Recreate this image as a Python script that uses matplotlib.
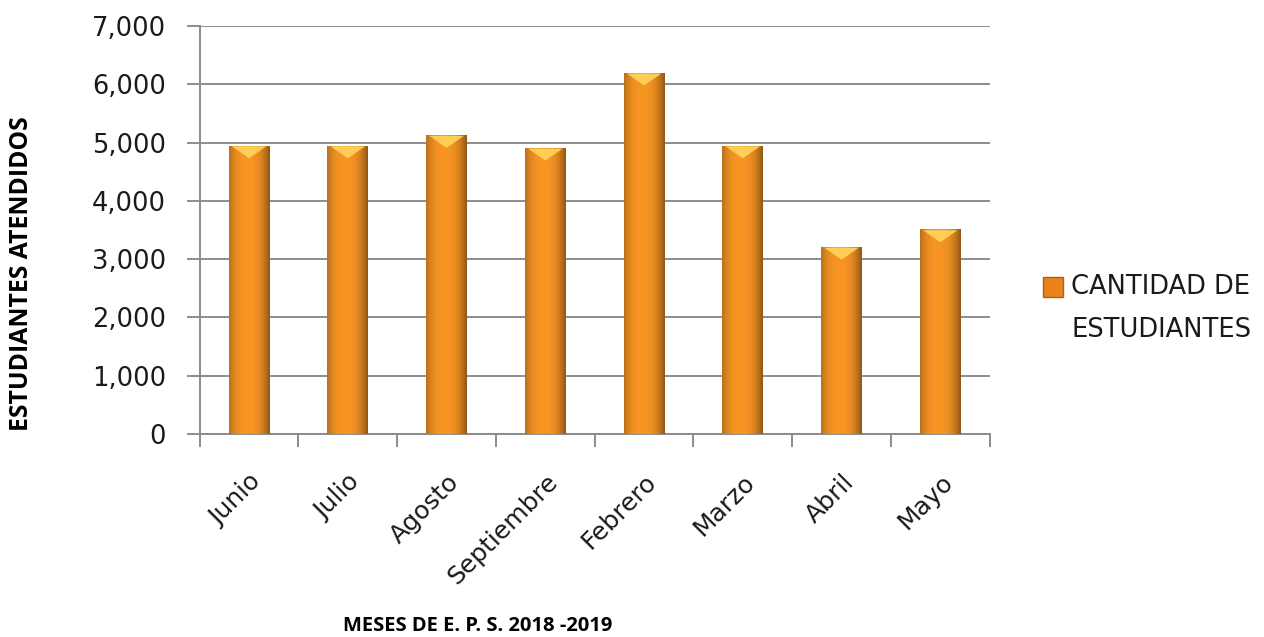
import numpy as np
import matplotlib
matplotlib.use("Agg")
import matplotlib.pyplot as plt
import matplotlib.transforms as mtransforms
from matplotlib.ticker import FuncFormatter, FixedLocator
from matplotlib.patches import Polygon, Rectangle

meses = ["Junio", "Julio", "Agosto", "Septiembre", "Febrero", "Marzo", "Abril", "Mayo"]
estudiantes = [4950, 4950, 5130, 4910, 6200, 4950, 3210, 3510]
serie = ["CANTIDAD DE", "ESTUDIANTES"]

plt.rcParams["font.family"] = ["DejaVu Sans"]

fig = plt.figure(figsize=(12.64, 6.37), dpi=100)
ax = fig.add_axes([0.158, 0.319, 0.625, 0.64])

x = np.arange(len(meses))
bars = ax.bar(x, estudiantes, width=0.415, color="#F7931E", edgecolor="none", zorder=3)

# sombreado horizontal tipo bisel de excel
t = np.linspace(0, 1, 80)
shade = 1 - 0.42 * (np.abs(t - 0.45) / 0.55) ** 2.5
base = np.array([248, 150, 36]) / 255.0
img = np.clip(base[None, None, :] * shade[None, :, None], 0, 1)
for b in bars:
    x0, w, h = b.get_x(), b.get_width(), b.get_height()
    im = ax.imshow(img, extent=[x0, x0 + w, 0, h], aspect="auto", zorder=4)
    im.set_clip_path(b)
    tri = Polygon([[x0 + w * 0.08, h - 15], [x0 + w * 0.92, h - 15], [x0 + w * 0.5, h - 220]],
                  closed=True, color="#FFD45C", alpha=0.9, zorder=5, lw=0)
    ax.add_patch(tri)

ax.set_xlim(-0.5, len(meses) - 0.5)
ax.set_ylim(0, 7000)
ax.set_yticks(range(0, 7001, 1000))
ax.yaxis.set_major_formatter(FuncFormatter(lambda v, p: f"{int(v):,}"))
ax.grid(axis="y", color="#8c8c8c", lw=1.4, zorder=0)

ax.set_xticks(x)
ax.set_xticklabels(meses, rotation=45, ha="right", va="top", rotation_mode="anchor",
                   fontsize=18, color="#1a1a1a")
shift = mtransforms.ScaledTranslation(-9 / 100, 0, fig.dpi_scale_trans)
for lab in ax.get_xticklabels():
    lab.set_transform(lab.get_transform() + shift)
ax.xaxis.set_minor_locator(FixedLocator(np.arange(-0.5, len(meses), 1)))
ax.tick_params(axis="x", which="major", length=0, pad=26)
ax.tick_params(axis="x", which="minor", length=9, color="#8c8c8c", width=1.4)
ax.tick_params(axis="y", length=9.4, color="#8c8c8c", width=1.4, labelsize=18.5, pad=15, labelcolor="#1a1a1a")

for s in ["top", "right"]:
    ax.spines[s].set_visible(False)
for s in ["left", "bottom"]:
    ax.spines[s].set_color("#8c8c8c")
    ax.spines[s].set_linewidth(1.4)

fig.text(0.017, 0.571, "ESTUDIANTES ATENDIDOS", rotation=90, ha="center", va="center",
         fontsize=17.8, fontweight="bold", family=["Open Sans", "DejaVu Sans"])
fig.text(0.378, 0.017, "MESES DE E. P. S. 2018 -2019", ha="center", va="center",
         fontsize=14.5, fontweight="bold", family=["Open Sans", "DejaVu Sans"])

# leyenda
fig.add_artist(Rectangle((1043 / 1264, 1 - 297 / 637), 20 / 1264, 20 / 637,
                         transform=fig.transFigure, facecolor="#E8841C", edgecolor="#B35E0E", lw=1))
fig.text(1071 / 1264, 1 - 287 / 637, serie[0], ha="left", va="center", fontsize=18.5, color="#1a1a1a")
fig.text(1071 / 1264, 1 - 330 / 637, serie[1], ha="left", va="center", fontsize=18.5, color="#1a1a1a")

fig.savefig("out.png", dpi=100)
